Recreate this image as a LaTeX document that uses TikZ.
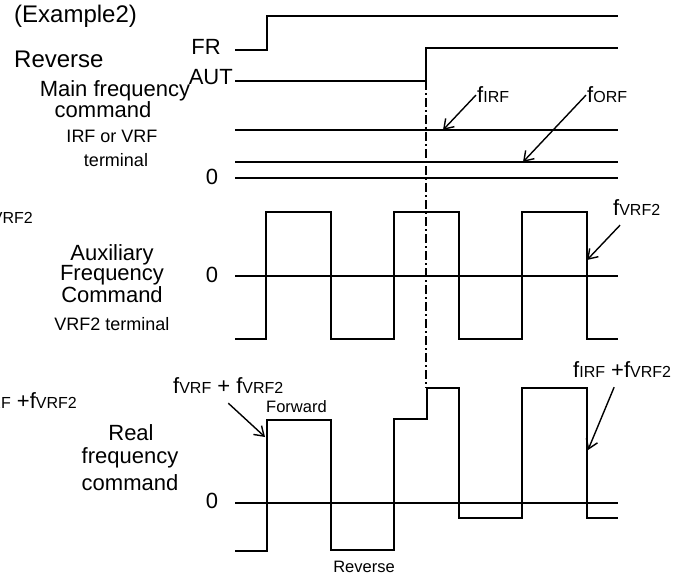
\documentclass[tikz,border=0pt]{standalone}
\usepackage{fontspec}
\setmainfont{Liberation Sans}
\usetikzlibrary{arrows.meta}
\newcommand{\sbs}[1]{{\fontsize{16}{16}\selectfont #1}}

\begin{document}
\begin{tikzpicture}[x=1pt,y=-1pt,font=\fontsize{22}{24}\selectfont,
    sig/.style={line width=2pt,line join=miter},
    axis/.style={line width=1.6pt},
    txt/.style={inner sep=0pt,anchor=base},
    big/.style={font=\fontsize{24}{26}\selectfont},
    small/.style={font=\fontsize{18}{20}\selectfont},
    tiny/.style={font=\fontsize{16.5}{18}\selectfont},
    arr/.style={-{Straight Barb[length=9pt,width=12pt]},line width=1.4pt}]
      \useasboundingbox (0,0) rectangle (691,575);
      \clip (0,0) rectangle (691,575);
      % main frequency command
      \node[txt,big,anchor=base west] (ex) at (14,23) {(Example2)};
      \node[txt,big,anchor=base west] (rev) at (14,68) {Reverse};
      \node[txt,anchor=base east] (fr) at (221,55) {FR};
      \node[txt,anchor=base east] (aut) at (233,85) {AUT};
      \node[txt] (mf1) at (115,97) {Main frequency};
      \node[txt] (mf2) at (103,118) {command};
      \node[txt,small] (mf3) at (112,143) {IRF or VRF};
      \node[txt,small] (mf4) at (116,167) {terminal};
      \node[txt] (z1) at (212,185) {0};
      \draw[sig] (235,50) -- (267,50) -- (267,16) -- (618,16);
      \draw[sig] (235,81) -- (426,81) -- (426,48) -- (618,48);
      \draw[sig] (235,130) -- (618,130);
      \draw[sig] (235,162) -- (618,162);
      \draw[sig] (235,178) -- (618,178);
      \node[txt,anchor=base west] (lirf) at (477,103) {f\sbs{IRF}};
      \node[txt,anchor=base west] (lorf) at (587,103) {f\sbs{ORF}};
      \coordinate (tirf) at (443,130);
      \coordinate (torf) at (523,162);
      \draw[arr] ([xshift=-1pt]lirf.west) -- (tirf);
      \draw[arr] ([xshift=-1pt]lorf.west) -- (torf);
      % auxiliary frequency command
      \node[txt] (af1) at (112,260) {Auxiliary};
      \node[txt] (af2) at (112,280) {Frequency};
      \node[txt] (af3) at (112,302) {Command};
      \node[txt,small] (af4) at (112,330) {VRF2 terminal};
      \node[txt] (z2) at (212,282) {0};
      \draw[axis] (235,276) -- (618,276);
      \draw[sig] (235,339) -- (266,339) -- (266,212) -- (331,212) -- (331,339)
        -- (394,339) -- (394,212) -- (459,212) -- (459,339)
        -- (522,339) -- (522,212) -- (587,212) -- (587,339) -- (618,339);
      \node[txt,anchor=base west] (lvrf2) at (613,215) {f\sbs{VRF2}};
      \coordinate (tvrf2) at (587,260);
      \draw[arr] ([xshift=7pt,yshift=-10pt]lvrf2.south west) -- (tvrf2);
      % real frequency command
      \node[txt] (rf1) at (131,440) {Real};
      \node[txt] (rf2) at (130,463) {frequency};
      \node[txt] (rf3) at (130,490) {command};
      \node[txt] (z3) at (212,508) {0};
      \draw[axis] (235,503) -- (618,503);
      \draw[sig] (235,551) -- (267,551) -- (267,420) -- (331,420) -- (331,550)
        -- (394,550) -- (394,419) -- (427,419) -- (427,388) -- (459,388) -- (459,518)
        -- (522,518) -- (522,388) -- (587,388) -- (587,518) -- (618,518);
      \draw[line width=1.4pt,dash pattern=on 9pt off 3pt on 2pt off 3pt] (426,81) -- (426,388);
      \node[txt,anchor=base west] (lvv) at (173,393) {f\sbs{VRF} + f\sbs{VRF2}};
      \node[txt,tiny,anchor=base west] (fwd) at (266,412) {Forward};
      \node[txt,tiny] (rvs) at (364,572) {Reverse};
      \node[txt,anchor=base west] (liv) at (573,377) {f\sbs{IRF} +f\sbs{VRF2}};
      \coordinate (tvv) at (265,437);
      \coordinate (tiv) at (588,450);
      \draw[arr] ([yshift=-10pt]lvv.south) -- (tvv);
      \draw[arr] ([xshift=-8pt,yshift=-10pt]liv.south) -- (tiv);
      % cut-off labels at the left edge
      \node[txt,anchor=base east] (cut1) at (33,223) {\sbs{f}\sbs{VRF2}};
      \node[txt,anchor=base east] (cut2) at (77,408) {f\sbs{IRF} +f\sbs{VRF2}};
\end{tikzpicture}
\end{document}
